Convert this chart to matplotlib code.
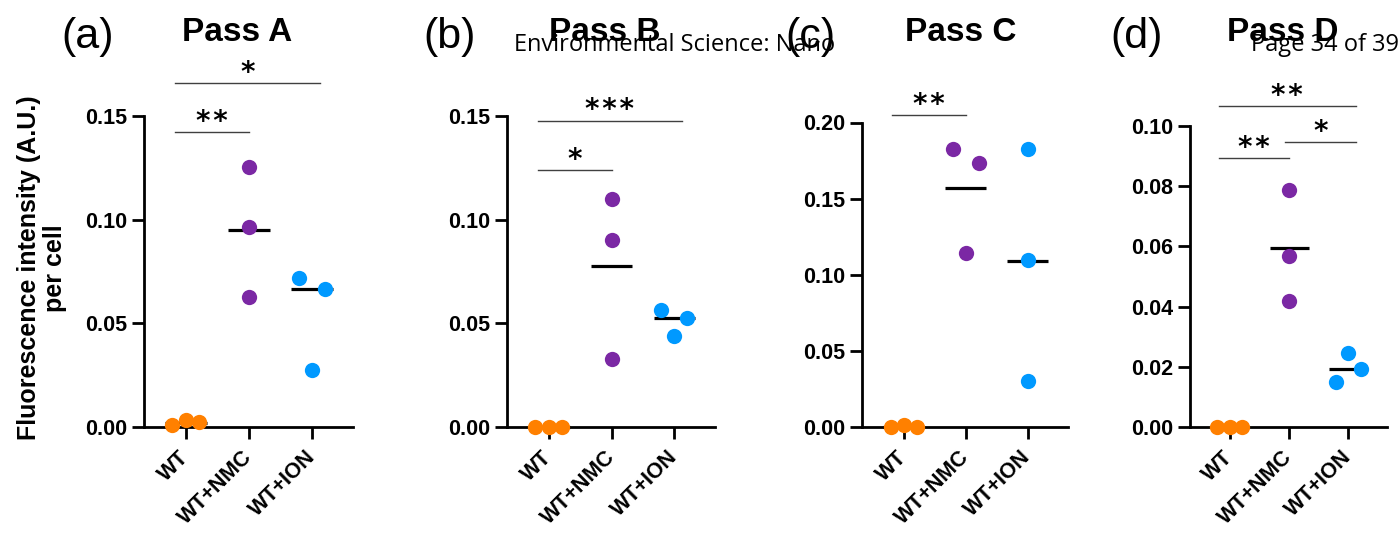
import numpy as np
import matplotlib
matplotlib.use("Agg")
import matplotlib.pyplot as plt

# groups and panel texts
cats = ["WT", "WT+NMC", "WT+ION"]
titles = ["Pass A", "Pass B", "Pass C", "Pass D"]
tags = ["(a)", "(b)", "(c)", "(d)"]

# values (3 replicates per group)
a_wt = [0.0011, 0.0035, 0.0022]
a_nmc = [0.1256, 0.0967, 0.0629]
a_ion = [0.0718, 0.0665, 0.0276]
a_mid = [0.0020, 0.0951, 0.0665]

b_wt = [0.0, 0.0, 0.0]
b_nmc = [0.1100, 0.0902, 0.0327]
b_ion = [0.0563, 0.0438, 0.0527]
b_mid = [0.0, 0.0777, 0.0527]

c_wt = [0.0, 0.0012, 0.0]
c_nmc = [0.1826, 0.1732, 0.1143]
c_ion = [0.1826, 0.1094, 0.0304]
c_mid = [0.0, 0.1567, 0.1090]

d_wt = [0.0, 0.0, 0.0]
d_nmc = [0.0788, 0.0568, 0.0419]
d_ion = [0.0247, 0.0193, 0.0149]
d_mid = [0.0, 0.0594, 0.0193]

# significance: (group i, group j, stars, bar height)
a_sig = [(0, 1, "**", 0.1422), (0, 2, "*", 0.1660)]
b_sig = [(0, 1, "*", 0.1238), (0, 2, "***", 0.1478)]
c_sig = [(0, 1, "**", 0.2050)]
d_sig = [(0, 1, "**", 0.0894), (1, 2, "*", 0.0948), (0, 2, "**", 0.1066)]

yticks_ab = [0.0, 0.05, 0.10, 0.15]
yticks_c = [0.0, 0.05, 0.10, 0.15, 0.20]
yticks_d = [0.0, 0.02, 0.04, 0.06, 0.08, 0.10]

# horizontal scatter of the dots inside each group
a_off = [[-0.22, 0, 0.2], [0, 0, 0], [-0.21, 0.2, 0]]
b_off = [[-0.22, 0, 0.2], [0, 0, 0], [-0.21, 0, 0.2]]
c_off = [[-0.21, 0, 0.21], [-0.21, 0.21, 0], [0, 0, 0]]
d_off = [[-0.21, 0, 0.21], [0, 0, 0], [0, 0.21, -0.21]]

colors = ["#FF8000", "#7B28A4", "#0099FF"]

W, H = 1399, 541
fig = plt.figure(figsize=(W / 100, H / 100), dpi=100)

# axes boxes in pixels: x0, x1, ytop (y of the top tick), ybottom
boxes = [(144, 353, 116, 427), (507, 715, 116, 427),
         (862, 1068, 122.5, 427), (1190, 1387, 126, 427)]

panels = [
    (a_wt, a_nmc, a_ion, a_mid, a_sig, yticks_ab, a_off),
    (b_wt, b_nmc, b_ion, b_mid, b_sig, yticks_ab, b_off),
    (c_wt, c_nmc, c_ion, c_mid, c_sig, yticks_c, c_off),
    (d_wt, d_nmc, d_ion, d_mid, d_sig, yticks_d, d_off),
]

tag_x = [88, 450, 810, 1137]
title_x = [237, 605, 961, 1283]

for k, (wt, nmc, ion, mid, sig, yt, off) in enumerate(panels):
    x0, x1, yt_px, yb_px = boxes[k]
    ax = fig.add_axes([x0 / W, 1 - yb_px / H, (x1 - x0) / W, (yb_px - yt_px) / H])
    groups = [wt, nmc, ion]
    for g, vals in enumerate(groups):
        xs = g + np.array(off[g])
        ax.plot([g - 0.33, g + 0.33], [mid[g], mid[g]], color="black",
                lw=2.3, solid_capstyle="butt", zorder=2, clip_on=False)
        ax.plot(xs, vals, "o", ms=11, color=colors[g], mec="none",
                zorder=3, clip_on=False)
    for i, j, stars, h in sig:
        xa = i - 0.18 if i == 0 else i - 0.07
        xb = j + 0.12 if j == 2 else j
        ax.plot([xa, xb], [h, h], color="#404040", lw=1.0, clip_on=False)
        ax.annotate(stars.replace("*", "*\u200a").strip(), xy=((xa + xb) / 2, h),
                    xytext=(0, 1.5), textcoords="offset points",
                    ha="center", va="baseline", fontsize=20,
                    fontweight="bold", family="DejaVu Sans",
                    annotation_clip=False)
    ax.set_xlim(-0.67, 2.65)
    ax.set_ylim(0, yt[-1])
    ax.set_yticks(yt)
    ax.set_yticklabels(["%.2f" % v for v in yt], fontsize=15.5,
                       fontweight="bold", family="Liberation Sans")
    ax.set_xticks(range(3))
    ax.set_xticklabels(cats, rotation=45, ha="right", va="center",
                       rotation_mode="anchor", fontsize=15.5,
                       fontweight="bold", family="Liberation Sans")
    ax.tick_params(axis="both", length=8.5, width=2, pad=3.5, color="black")
    ax.tick_params(axis="x", pad=11)
    for s in ["top", "right"]:
        ax.spines[s].set_visible(False)
    for s in ["left", "bottom"]:
        ax.spines[s].set_linewidth(2)
    ax.patch.set_alpha(0)

    fig.text(title_x[k] / W, 1 - 41 / H, titles[k], ha="center",
             va="baseline", fontsize=24, fontweight="bold",
             family="Liberation Sans")
    fig.text(tag_x[k] / W, 1 - 48 / H, tags[k], ha="center",
             va="baseline", fontsize=31, family="Liberation Sans")

fig.text(42 / W, 1 - 268 / H, "Fluorescence intensity (A.U.)\nper cell",
         rotation=90, ha="center", va="center", multialignment="center",
         fontsize=18, fontweight="bold", family="Liberation Sans",
         linespacing=1.1)

# page header of the source pdf
fig.text(514 / W, 1 - 51 / H, "Environmental Science: Nano", ha="left",
         va="baseline", fontsize=17, family="Open Sans")
fig.text(1251 / W, 1 - 51 / H, "Page 34 of 39", ha="left",
         va="baseline", fontsize=17, family="Open Sans")

fig.savefig("out.png", dpi=100)
